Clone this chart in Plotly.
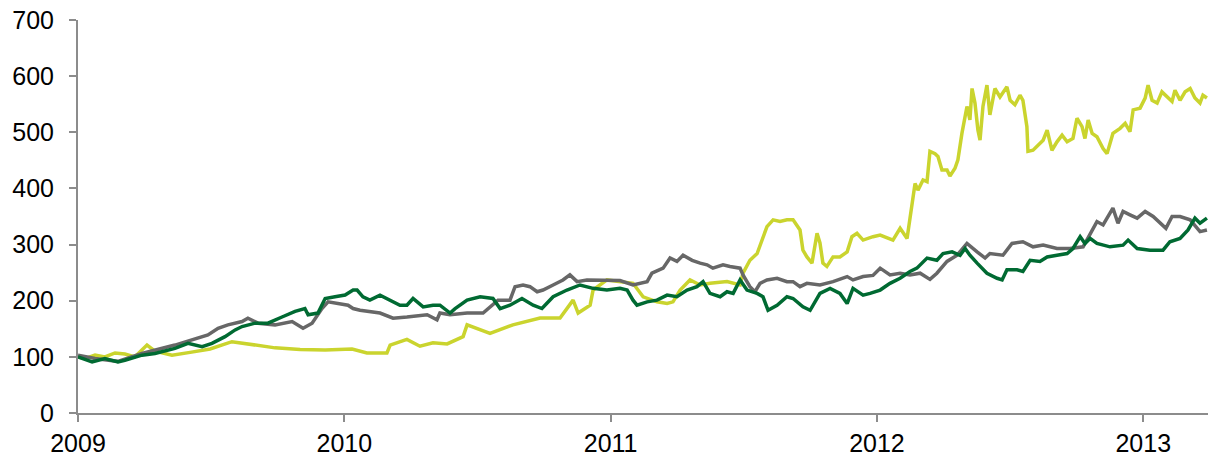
import plotly.graph_objects as go

# x positions are in decimal years (2009.0 = start of 2009)
yellow_t = [2009.000, 2009.026, 2009.064, 2009.101, 2009.139, 2009.176, 2009.214, 2009.259, 2009.289,
            2009.353, 2009.421, 2009.496, 2009.578, 2009.646, 2009.740, 2009.834, 2009.928, 2010.029,
            2010.085, 2010.160, 2010.172, 2010.235, 2010.284, 2010.333, 2010.386, 2010.446, 2010.461,
            2010.547, 2010.633, 2010.735, 2010.810, 2010.859, 2010.878, 2010.923, 2010.934, 2010.986,
            2011.035, 2011.084, 2011.122, 2011.174, 2011.212, 2011.234, 2011.261, 2011.298, 2011.336,
            2011.373, 2011.437, 2011.460, 2011.486, 2011.497, 2011.523, 2011.550, 2011.572, 2011.587,
            2011.610, 2011.636, 2011.662, 2011.685, 2011.711, 2011.722, 2011.737, 2011.756, 2011.775,
            2011.786, 2011.797, 2011.812, 2011.835, 2011.861, 2011.888, 2011.906, 2011.925, 2011.948,
            2011.985, 2012.012, 2012.060, 2012.087, 2012.113, 2012.124, 2012.143, 2012.154, 2012.173,
            2012.188, 2012.199, 2012.218, 2012.229, 2012.244, 2012.263, 2012.274, 2012.293, 2012.304,
            2012.319, 2012.338, 2012.349, 2012.357, 2012.368, 2012.379, 2012.387, 2012.398, 2012.413,
            2012.424, 2012.443, 2012.462, 2012.488, 2012.500, 2012.518, 2012.537, 2012.548, 2012.563,
            2012.567, 2012.586, 2012.605, 2012.624, 2012.639, 2012.657, 2012.676, 2012.695, 2012.714,
            2012.736, 2012.751, 2012.770, 2012.781, 2012.793, 2012.808, 2012.826, 2012.849, 2012.864,
            2012.886, 2012.913, 2012.932, 2012.950, 2012.962, 2012.988, 2013.007, 2013.018, 2013.033,
            2013.052, 2013.070, 2013.093, 2013.108, 2013.119, 2013.138, 2013.157, 2013.176, 2013.194,
            2013.213, 2013.224, 2013.239]
yellow_v = [100, 97, 103, 100, 107, 105, 100, 121, 110,
            103, 108, 114, 127, 122, 116, 113, 112, 114,
            107, 107, 121, 131, 119, 125, 123, 136, 157,
            142, 157, 169, 169, 201, 178, 192, 219, 237,
            234, 231, 207, 198, 195, 198, 219, 237, 228,
            231, 234, 231, 228, 249, 272, 284, 314, 332,
            344, 341, 344, 344, 326, 290, 278, 267, 320,
            303, 267, 261, 278, 278, 287, 314, 320, 308,
            314, 317, 308, 329, 311, 350, 409, 397, 415,
            412, 466, 462, 457, 433, 433, 422, 436, 451,
            498, 546, 522, 578, 552, 504, 486, 546, 584,
            531, 578, 563, 581, 557, 549, 566, 557, 510,
            466, 468, 477, 486, 504, 468, 483, 495, 483,
            489, 525, 510, 489, 522, 498, 492, 471, 462,
            498, 507, 516, 501, 540, 543, 561, 584, 557,
            552, 572, 561, 555, 575, 557, 572, 578, 561,
            552, 566, 561]

gray_t = [2009.000, 2009.064, 2009.150, 2009.240, 2009.364, 2009.428, 2009.488, 2009.526, 2009.563,
          2009.616, 2009.638, 2009.676, 2009.740, 2009.804, 2009.845, 2009.879, 2009.916, 2009.939,
          2009.976, 2010.014, 2010.033, 2010.059, 2010.134, 2010.183, 2010.235, 2010.311, 2010.348,
          2010.359, 2010.397, 2010.461, 2010.521, 2010.558, 2010.577, 2010.622, 2010.641, 2010.671,
          2010.697, 2010.724, 2010.746, 2010.784, 2010.821, 2010.847, 2010.874, 2010.911, 2010.986,
          2011.035, 2011.084, 2011.137, 2011.155, 2011.197, 2011.223, 2011.249, 2011.272, 2011.306,
          2011.336, 2011.362, 2011.384, 2011.422, 2011.448, 2011.486, 2011.497, 2011.523, 2011.542,
          2011.561, 2011.587, 2011.625, 2011.662, 2011.685, 2011.711, 2011.737, 2011.786, 2011.835,
          2011.888, 2011.910, 2011.948, 2011.985, 2012.012, 2012.049, 2012.087, 2012.124, 2012.162,
          2012.199, 2012.225, 2012.263, 2012.301, 2012.338, 2012.376, 2012.406, 2012.424, 2012.473,
          2012.507, 2012.548, 2012.586, 2012.624, 2012.676, 2012.725, 2012.774, 2012.800, 2012.826,
          2012.849, 2012.886, 2012.905, 2012.924, 2012.950, 2012.977, 2013.007, 2013.037, 2013.085,
          2013.108, 2013.138, 2013.176, 2013.213, 2013.239]
gray_v = [103, 97, 92, 106, 121, 130, 139, 151, 157,
          163, 169, 160, 157, 163, 151, 160, 186, 198,
          195, 192, 186, 183, 178, 169, 171, 175, 166,
          178, 175, 178, 178, 192, 201, 201, 225, 228,
          225, 216, 219, 228, 237, 246, 234, 237, 237,
          236, 228, 234, 249, 258, 276, 270, 281, 272,
          267, 264, 258, 264, 261, 258, 246, 225, 216,
          231, 237, 240, 234, 234, 225, 231, 228, 234,
          243, 237, 243, 245, 258, 246, 249, 246, 249,
          238, 249, 270, 281, 302, 287, 276, 284, 281,
          302, 305, 296, 299, 293, 293, 296, 320, 341,
          335, 365, 338, 359, 353, 347, 359, 350, 329,
          350, 350, 344, 323, 326]

green_t = [2009.000, 2009.053, 2009.101, 2009.150, 2009.176, 2009.240, 2009.289, 2009.338, 2009.364,
           2009.413, 2009.466, 2009.503, 2009.552, 2009.590, 2009.616, 2009.665, 2009.713, 2009.766,
           2009.815, 2009.852, 2009.864, 2009.901, 2009.928, 2009.965, 2010.003, 2010.033, 2010.048,
           2010.070, 2010.096, 2010.134, 2010.172, 2010.209, 2010.235, 2010.258, 2010.296, 2010.333,
           2010.359, 2010.397, 2010.416, 2010.461, 2010.510, 2010.558, 2010.585, 2010.622, 2010.667,
           2010.709, 2010.742, 2010.784, 2010.836, 2010.885, 2010.934, 2010.986, 2011.035, 2011.062,
           2011.084, 2011.099, 2011.137, 2011.174, 2011.212, 2011.249, 2011.287, 2011.324, 2011.347,
           2011.373, 2011.411, 2011.437, 2011.460, 2011.486, 2011.512, 2011.550, 2011.572, 2011.591,
           2011.625, 2011.662, 2011.685, 2011.722, 2011.749, 2011.786, 2011.824, 2011.861, 2011.888,
           2011.910, 2011.948, 2011.974, 2012.012, 2012.049, 2012.087, 2012.124, 2012.150, 2012.188,
           2012.225, 2012.248, 2012.282, 2012.312, 2012.331, 2012.349, 2012.376, 2012.413, 2012.451,
           2012.470, 2012.488, 2012.526, 2012.548, 2012.575, 2012.612, 2012.639, 2012.676, 2012.714,
           2012.736, 2012.763, 2012.781, 2012.800, 2012.826, 2012.875, 2012.924, 2012.943, 2012.977,
           2013.025, 2013.074, 2013.100, 2013.138, 2013.168, 2013.194, 2013.213, 2013.239]
green_v = [100, 91, 97, 91, 94, 103, 106, 112, 115,
           124, 118, 124, 136, 148, 154, 160, 160, 171,
           181, 186, 175, 178, 204, 207, 210, 219, 219,
           207, 201, 210, 201, 192, 192, 204, 189, 192,
           192, 178, 186, 201, 207, 204, 186, 192, 204,
           192, 186, 207, 219, 228, 222, 219, 222, 219,
           201, 192, 198, 201, 210, 207, 219, 225, 234,
           213, 207, 216, 213, 237, 219, 213, 207, 183,
           192, 207, 204, 189, 183, 213, 222, 213, 195,
           222, 210, 213, 219, 231, 240, 252, 258, 276,
           272, 284, 287, 281, 293, 281, 267, 249, 240,
           237, 255, 255, 252, 272, 270, 278, 281, 284,
           293, 314, 302, 311, 302, 296, 299, 308, 293,
           290, 290, 305, 311, 326, 347, 338, 347]

year_ticks = [2009, 2010, 2011, 2012, 2013]
year_labels = ["2009", "2010", "2011", "2012", "2013"]
y_ticks = [0, 100, 200, 300, 400, 500, 600, 700]

fig = go.Figure()
fig.add_trace(go.Scatter(x=yellow_t, y=yellow_v, mode="lines",
                         line=dict(color="#cad42e", width=3.5), showlegend=False))
fig.add_trace(go.Scatter(x=gray_t, y=gray_v, mode="lines",
                         line=dict(color="#676767", width=3.5), showlegend=False))
fig.add_trace(go.Scatter(x=green_t, y=green_v, mode="lines",
                         line=dict(color="#006a32", width=3.5), showlegend=False))

axis_color = "#8c8c8c"
fig.update_layout(
    width=1209, height=457,
    margin=dict(l=78, r=1, t=20, b=44),
    plot_bgcolor="white", paper_bgcolor="white",
    font=dict(family="Liberation Sans, Arial, sans-serif", size=25, color="#000000"),
    xaxis=dict(range=[2009, 2013.243], tickvals=year_ticks, ticktext=year_labels,
               showgrid=False, zeroline=False, showline=True, linecolor=axis_color, linewidth=2,
               ticks="outside", ticklen=7, tickwidth=2, tickcolor=axis_color,
               tickfont=dict(size=25)),
    yaxis=dict(range=[0, 700], tickvals=y_ticks,
               showgrid=False, zeroline=False, showline=True, linecolor=axis_color, linewidth=2,
               ticks="outside", ticklen=7, tickwidth=2, tickcolor=axis_color,
               ticklabelstandoff=10, tickfont=dict(size=25)),
)

fig.write_html("out.html", config={"displayModeBar": False})
with open("out.html", "r", encoding="utf-8") as f:
    html = f.read()
html = html.replace("<body>", '<body style="margin:0;padding:0;overflow:hidden">', 1)
with open("out.html", "w", encoding="utf-8") as f:
    f.write(html)
